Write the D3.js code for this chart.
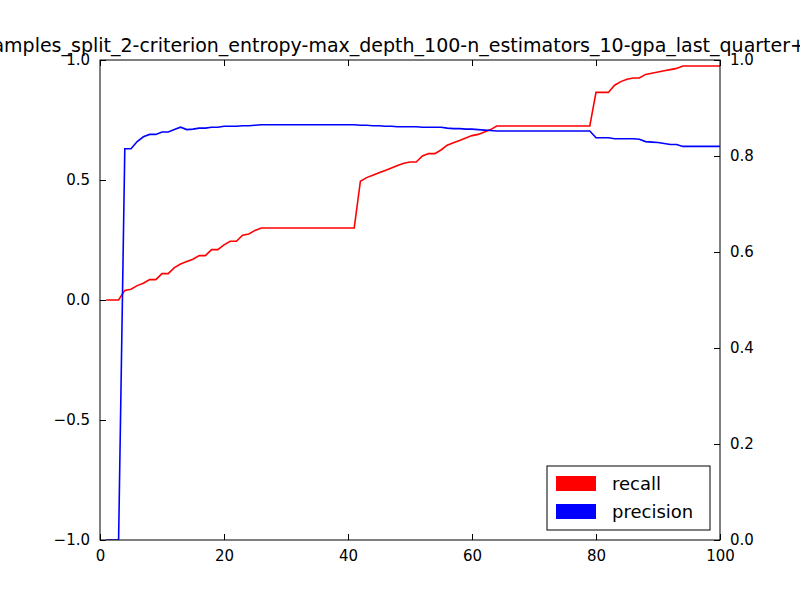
<!DOCTYPE html>
<html><head><meta charset="utf-8">
<script src="https://cdn.jsdelivr.net/npm/d3@7"></script>
<style>body{margin:0;background:#fff}text{font-family:"DejaVu Sans",sans-serif}</style>
</head><body>
<script>
var titleText = "min_samples_split_2-criterion_entropy-max_depth_100-n_estimators_10-gpa_last_quarter+";
var xs = d3.range(1, 101);
var recall = [0,0,0,0.04,0.045,0.06,0.07,0.085,0.085,0.11,0.11,0.135,0.15,0.16,0.17,0.185,0.185,0.21,0.21,0.23,
  0.245,0.245,0.27,0.275,0.29,0.30,0.30,0.30,0.30,0.30,0.30,0.30,0.30,0.30,0.30,0.30,0.30,0.30,0.30,0.30,
  0.30,0.495,0.51,0.52,0.53,0.54,0.55,0.56,0.57,0.575,0.575,0.60,0.61,0.61,0.625,0.645,0.655,0.665,0.675,0.685,
  0.69,0.70,0.71,0.725,0.725,0.725,0.725,0.725,0.725,0.725,0.725,0.725,0.725,0.725,0.725,0.725,0.725,0.725,0.725,0.865,
  0.865,0.865,0.895,0.91,0.92,0.925,0.925,0.94,0.945,0.95,0.955,0.96,0.965,0.975,0.975,0.975,0.975,0.975,0.975,0.975];
var precision = [0,0,0,0.815,0.815,0.83,0.84,0.845,0.845,0.85,0.85,0.855,0.86,0.855,0.856,0.858,0.858,0.86,0.86,0.862,
  0.862,0.862,0.863,0.863,0.864,0.865,0.865,0.865,0.865,0.865,0.865,0.865,0.865,0.865,0.865,0.865,0.865,0.865,0.865,0.865,
  0.865,0.864,0.864,0.863,0.863,0.862,0.862,0.861,0.861,0.861,0.861,0.860,0.860,0.860,0.860,0.858,0.857,0.857,0.856,0.856,
  0.855,0.854,0.853,0.852,0.852,0.852,0.852,0.852,0.852,0.852,0.852,0.852,0.852,0.852,0.852,0.852,0.852,0.852,0.852,0.838,
  0.838,0.838,0.836,0.836,0.836,0.836,0.835,0.83,0.829,0.828,0.826,0.824,0.824,0.82,0.82,0.82,0.82,0.82,0.82,0.82];
var leftTicks = [-1.0,-0.5,0.0,0.5,1.0];
var rightTicks = [0.0,0.2,0.4,0.6,0.8,1.0];
var xTicks = [0,20,40,60,80,100];
var series = [{name:"recall",color:"#ff0000"},{name:"precision",color:"#0000ff"}];

var svg = d3.select("body").append("svg").attr("width",800).attr("height",600);
var x = d3.scaleLinear().domain([0,100]).range([100,720]);
var yL = d3.scaleLinear().domain([-1,1]).range([540,60]);
var yR = d3.scaleLinear().domain([0,1]).range([540,60]);
var fmt = d3.format(".1f");
var minus = function(d){ return fmt(d).replace("-","\u2212"); };

function styleAxis(g){
  g.select(".domain").remove();
  g.selectAll("text").style("font-size","15px").attr("fill","#000");
  g.selectAll("line").attr("stroke","#000");
}
svg.append("g").attr("transform","translate(0,540)")
  .call(d3.axisBottom(x).tickValues(xTicks).tickSize(-6).tickPadding(10).tickFormat(d3.format("d"))).call(styleAxis);
svg.append("g").attr("transform","translate(0,60)")
  .call(d3.axisTop(x).tickValues(xTicks).tickSize(-6).tickFormat("")).call(styleAxis);
svg.append("g").attr("transform","translate(100,0)")
  .call(d3.axisLeft(yL).tickValues(leftTicks).tickSize(-6).tickPadding(10).tickFormat(minus)).call(styleAxis);
svg.append("g").attr("transform","translate(720,0)")
  .call(d3.axisRight(yR).tickValues(rightTicks).tickSize(-6).tickPadding(10).tickFormat(fmt)).call(styleAxis);

svg.append("clipPath").attr("id","c").append("rect").attr("x",100).attr("y",60).attr("width",620).attr("height",480);
var lineL = d3.line().x(function(d,i){return x(xs[i]);}).y(function(d){return yL(d);});
var lineR = d3.line().x(function(d,i){return x(xs[i]);}).y(function(d){return yR(d);});
svg.append("path").datum(recall).attr("d",lineL).attr("fill","none").attr("stroke","#ff0000").attr("stroke-width",1.6).attr("clip-path","url(#c)");
svg.append("path").datum(precision).attr("d",lineR).attr("fill","none").attr("stroke","#0000ff").attr("stroke-width",1.6).attr("clip-path","url(#c)");

svg.append("rect").attr("x",100).attr("y",60).attr("width",620).attr("height",480).attr("fill","none").attr("stroke","#000");

svg.append("text").attr("x",806).attr("y",52).attr("text-anchor","end").style("font-size","19px").text(titleText);

var lg = svg.append("g").attr("transform","translate(547,466)");
lg.append("rect").attr("width",163).attr("height",64).attr("fill","#fff").attr("stroke","#000");
series.forEach(function(s,i){
  lg.append("rect").attr("x",9).attr("y",10+i*28).attr("width",40).attr("height",15).attr("fill",s.color);
  lg.append("text").attr("x",65).attr("y",24+i*28).style("font-size","18px").text(s.name);
});
</script>
</body></html>
